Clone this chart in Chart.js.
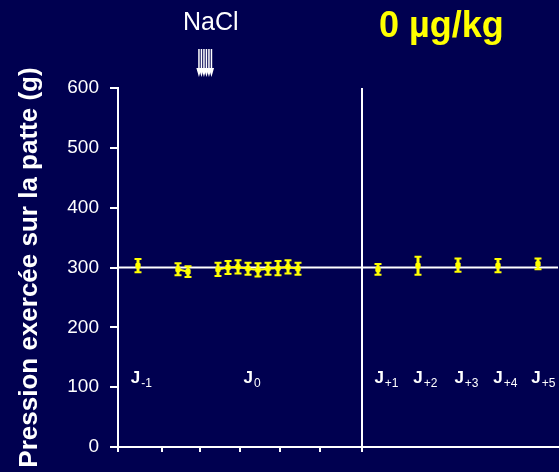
<!DOCTYPE html>
<html>
<head>
<meta charset="utf-8">
<script src="https://cdn.jsdelivr.net/npm/chart.js@4.4.1/dist/chart.umd.min.js"></script>
<style>
  html, body { margin: 0; padding: 0; background: #000050; overflow: hidden; }
  canvas { display: block; }
</style>
</head>
<body>
<canvas id="c" width="563" height="472"></canvas>
<script>
// Day J-1: a single measurement
const dayMinus1X = [0.5];
const dayMinus1Y = [303];
const dayMinus1Err = [11];

// Day J0, before the NaCl injection
const day0PreX = [1.5, 1.75];
const day0PreY = [297, 293];
const day0PreErr = [10, 9];

// Day J0, after the NaCl injection
const day0PostX = [2.5, 2.75, 3.0, 3.25, 3.5, 3.75, 4.0, 4.25, 4.5];
const day0PostY = [297, 300, 301, 298, 296, 298, 299, 301, 298];
const day0PostErr = [11, 11, 11, 10, 11, 10, 12, 11, 10];

// Days J+1 to J+5
const laterDaysX = [6.5, 7.5, 8.5, 9.5, 10.5];
const laterDaysY = [297, 303, 304, 303, 306];
const laterDaysErr = [9, 15, 11, 11, 9];

// Reference level, day separator and injection time (x in axis units)
const baselineValue = 300;
const dividerX = 6.1;
const injectionX = 2.18;

// Axis ranges and ticks
const xMin = 0;
const xMax = 11;
const xTickValues = [0, 1.1, 2.05, 3.05, 4.05, 5.05, 6.1];
const yMin = 0;
const yMax = 600;
const yStep = 100;

// Day names written inside the plot
const dayNames = ['-1', '0', '+1', '+2', '+3', '+4', '+5'];
const dayNameX = [0.32, 3.14, 6.41, 7.38, 8.41, 9.38, 10.33];
const dayNameY = 107;

const YELLOW = '#ffff00';
const WHITE = '#ffffff';
const BG = '#000050';
const FONT = "'Liberation Sans', Arial, sans-serif";

const toPoints = (xs, ys) => xs.map((v, i) => ({ x: v, y: ys[i] }));

const marker = {
  pointStyle: 'rect',
  pointRadius: 3,
  pointBackgroundColor: YELLOW,
  pointBorderColor: YELLOW,
  pointBorderWidth: 1,
  borderColor: YELLOW,
  borderWidth: 2,
  order: 0
};

// Vertical error bars (± SEM) drawn through the y scale
const errorBars = {
  id: 'errorBars',
  afterDatasetsDraw(chart) {
    const { ctx } = chart;
    const yScale = chart.scales.y;
    chart.data.datasets.forEach((ds, di) => {
      if (!ds.errors) return;
      const meta = chart.getDatasetMeta(di);
      ctx.save();
      ctx.strokeStyle = YELLOW;
      meta.data.forEach((el, i) => {
        const v = ds.data[i].y;
        const e = ds.errors[i];
        const top = yScale.getPixelForValue(v + e);
        const bot = yScale.getPixelForValue(v - e);
        ctx.lineWidth = 3;
        ctx.beginPath();
        ctx.moveTo(el.x, top);
        ctx.lineTo(el.x, bot);
        ctx.stroke();
        ctx.lineWidth = 2;
        ctx.beginPath();
        ctx.moveTo(el.x - 3.5, top);
        ctx.lineTo(el.x + 3.5, top);
        ctx.moveTo(el.x - 3.5, bot);
        ctx.lineTo(el.x + 3.5, bot);
        ctx.stroke();
      });
      ctx.restore();
    });
  }
};

// Background, heading, NaCl arrows and day names
const decor = {
  id: 'decor',
  beforeDraw(chart) {
    const { ctx, width, height } = chart;
    ctx.save();
    ctx.fillStyle = BG;
    ctx.fillRect(0, 0, width, height);
    ctx.restore();
  },
  afterDraw(chart) {
    const { ctx } = chart;
    const xScale = chart.scales.x;
    const yScale = chart.scales.y;
    ctx.save();
    ctx.textBaseline = 'alphabetic';
    ctx.textAlign = 'left';

    ctx.fillStyle = YELLOW;
    ctx.font = `bold 36px ${FONT}`;
    ctx.fillText('0 µg/kg', 379, 37);

    ctx.fillStyle = WHITE;
    ctx.font = `25px ${FONT}`;
    ctx.fillText('NaCl', 183, 30);

    // bundle of downward arrows at the injection time
    const ax = xScale.getPixelForValue(injectionX);
    ctx.strokeStyle = WHITE;
    ctx.fillStyle = WHITE;
    ctx.lineWidth = 1.5;
    for (let k = -2.5; k <= 2.5; k++) {
      const lx = ax + k * 2.5;
      ctx.beginPath();
      ctx.moveTo(lx, 49);
      ctx.lineTo(lx, 70);
      ctx.stroke();
      ctx.beginPath();
      ctx.moveTo(lx - 2.6, 68);
      ctx.lineTo(lx + 2.6, 68);
      ctx.lineTo(lx, 77);
      ctx.closePath();
      ctx.fill();
    }

    // day names: bold J with a subscript
    const by = yScale.getPixelForValue(dayNameY);
    dayNames.forEach((sub, i) => {
      const px = xScale.getPixelForValue(dayNameX[i]);
      ctx.font = `bold 17px ${FONT}`;
      ctx.fillText('J', px, by);
      const jw = ctx.measureText('J').width;
      ctx.font = `12px ${FONT}`;
      ctx.fillText(sub, px + jw + 1, by + 4);
    });
    ctx.restore();
  }
};

new Chart(document.getElementById('c'), {
  type: 'scatter',
  data: {
    datasets: [
      { data: toPoints(dayMinus1X, dayMinus1Y), errors: dayMinus1Err, showLine: false, ...marker },
      { data: toPoints(day0PreX, day0PreY), errors: day0PreErr, showLine: true, ...marker },
      { data: toPoints(day0PostX, day0PostY), errors: day0PostErr, showLine: true, ...marker },
      { data: toPoints(laterDaysX, laterDaysY), errors: laterDaysErr, showLine: false, ...marker },
      {
        data: [{ x: xMin, y: baselineValue }, { x: xMax, y: baselineValue }],
        showLine: true, borderColor: WHITE, borderWidth: 2, pointRadius: 0, order: 10
      },
      {
        data: [{ x: dividerX, y: yMin }, { x: dividerX, y: yMax }],
        showLine: true, borderColor: WHITE, borderWidth: 2, pointRadius: 0, order: 10
      }
    ]
  },
  options: {
    responsive: false,
    animation: false,
    devicePixelRatio: 1,
    layout: { padding: { top: 88, left: 0, right: 0, bottom: 0 } },
    plugins: { legend: { display: false }, tooltip: { enabled: false } },
    scales: {
      x: {
        type: 'linear',
        min: xMin,
        max: xMax,
        afterBuildTicks: (s) => { s.ticks = xTickValues.map(v => ({ value: v })); },
        ticks: { display: false },
        grid: { drawOnChartArea: false, color: WHITE, lineWidth: 2, tickLength: 5 },
        border: { color: WHITE, width: 2 },
        afterFit: (s) => { s.height = 25; }
      },
      y: {
        min: yMin,
        max: yMax,
        ticks: { stepSize: yStep, color: WHITE, font: { family: FONT, size: 19 }, padding: 11 },
        grid: { drawOnChartArea: false, color: WHITE, lineWidth: 2, tickLength: 8 },
        border: { color: WHITE, width: 2 },
        title: {
          display: true,
          text: 'Pression exercée sur la patte (g)',
          color: WHITE,
          font: { family: FONT, size: 26, weight: 'bold' },
          padding: { top: 14, bottom: 0 }
        },
        afterFit: (s) => { s.width = 118; }
      }
    }
  },
  plugins: [decor, errorBars]
});
</script>
</body>
</html>
